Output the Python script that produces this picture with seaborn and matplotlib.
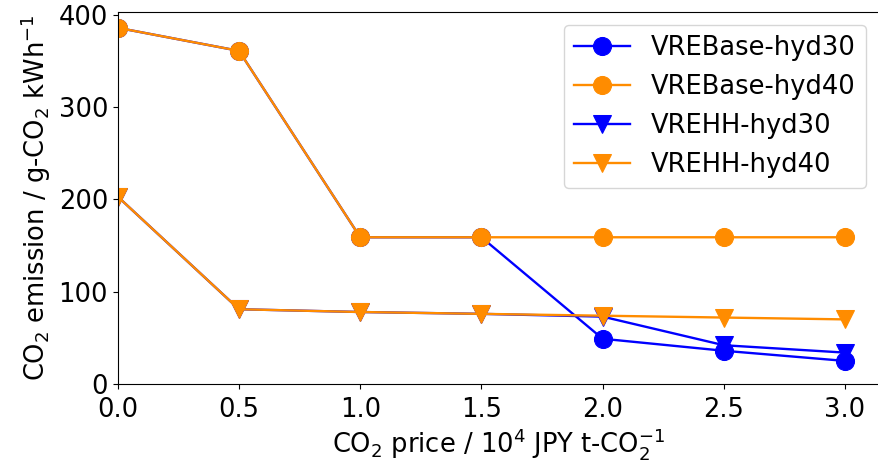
import matplotlib
matplotlib.use("Agg")
import matplotlib.pyplot as plt
import seaborn as sns
import pandas as pd

co2_price = [0.0, 0.5, 1.0, 1.5, 2.0, 2.5, 3.0]
vrebase_hyd30 = [386, 361, 159, 159, 49, 36, 25]
vrebase_hyd40 = [386, 361, 159, 159, 159, 159, 159]
vrehh_hyd30 = [203, 81, 78, 76, 73, 42, 34]
vrehh_hyd40 = [203, 81, 78, 76, 74, 72, 70]

series = [
    ("VREBase-hyd30", vrebase_hyd30, "blue", "o"),
    ("VREBase-hyd40", vrebase_hyd40, "darkorange", "o"),
    ("VREHH-hyd30", vrehh_hyd30, "blue", "v"),
    ("VREHH-hyd40", vrehh_hyd40, "darkorange", "v"),
]

plt.rcParams["font.family"] = ["DejaVu Sans"]
plt.rcParams["font.size"] = 18.5

fig = plt.figure(figsize=(8.79, 4.66), dpi=100)
ax = fig.add_axes([0.134, 0.176, 0.866, 0.798])

for name, vals, color, marker in series:
    df = pd.DataFrame({"x": co2_price, "y": vals})
    sns.lineplot(data=df, x="x", y="y", ax=ax, color=color, marker=marker,
                 markersize=13, markeredgecolor=color, linewidth=1.7, label=name)

ax.set_xlim(0, 3.14)
ax.set_ylim(0, 403)
ax.set_xticks([0.0, 0.5, 1.0, 1.5, 2.0, 2.5, 3.0])
ax.set_yticks([0, 100, 200, 300, 400])
ax.tick_params(axis="both", labelsize=18.5)
ax.tick_params(axis="x", pad=6)
ax.set_xlabel("CO$_2$ price / 10$^4$ JPY t-CO$_2^{-1}$", fontsize=18.5, labelpad=2)
ax.set_ylabel("CO$_2$ emission / g-CO$_2$ kWh$^{-1}$", fontsize=18.5)
ax.legend(loc="upper right", fontsize=18.5, handlelength=2.2)

fig.savefig("out.png", dpi=100)
